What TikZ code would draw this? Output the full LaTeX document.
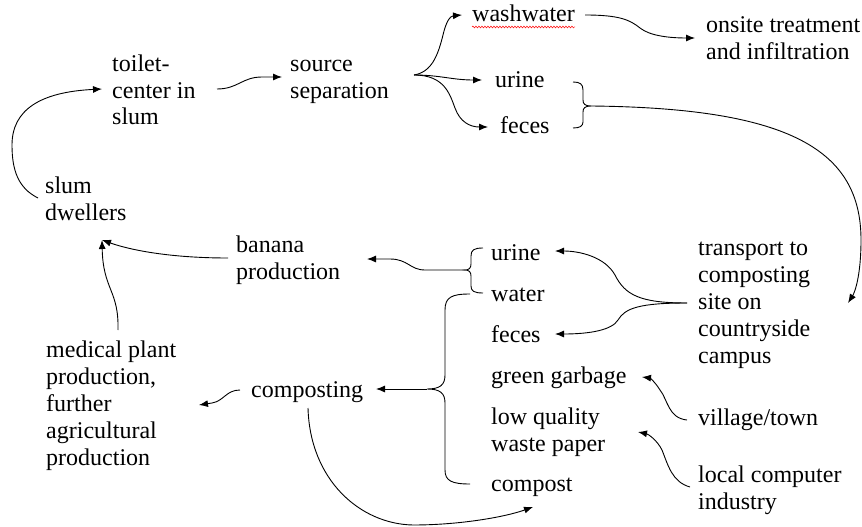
\documentclass[tikz,border=0pt]{standalone}
\usepackage{fontspec}
\setmainfont{Liberation Serif}
\usetikzlibrary{arrows.meta,decorations.pathmorphing}
% several lines, baseline on the first one
\newcommand\mlines[1]{\begin{tabular}[t]{@{}l@{}}#1\end{tabular}}
\begin{document}
\begin{tikzpicture}[x=1pt,y=-1pt,
  lbl/.style={anchor=base west, inner sep=0pt, font=\fontsize{24}{27}\selectfont},
  flow/.style={line width=0.9pt, -{Latex[length=9pt,width=7pt]}},
  bracket/.style={line width=0.9pt},
  squiggle/.style={red, line width=0.5pt, decorate,
    decoration={snake, amplitude=0.9pt, segment length=3pt}}]
\useasboundingbox (0,0) rectangle (862,527);

% ---- texts ----
\node[lbl] (toilet)    at (112,71)  {\mlines{toilet-\\center in\\slum}};
\node[lbl] (source)    at (290,71)  {\mlines{source\\separation}};
\node[lbl] (wash)      at (472,22)  {washwater};
\node[lbl] (onsite)    at (706,33)  {\mlines{onsite treatment\\and infiltration}};
\node[lbl] (urineA)    at (495,88)  {urine};
\node[lbl] (fecesA)    at (500,133) {feces};
\node[lbl] (slum)      at (45,193)  {\mlines{slum\\dwellers}};
\node[lbl] (banana)    at (236,252) {\mlines{banana\\production}};
\node[lbl] (medical)   at (46,357)  {\mlines{medical plant\\production,\\further\\agricultural\\production}};
\node[lbl] (composting) at (251,397) {composting};
\node[lbl] (urineB)    at (491,260) {urine};
\node[lbl] (water)     at (491,301) {water};
\node[lbl] (fecesB)    at (491,342) {feces};
\node[lbl] (green)     at (491,383) {green garbage};
\node[lbl] (lowq)      at (491,424) {\mlines{low quality\\waste paper}};
\node[lbl] (compost)   at (491,491) {compost};
\node[lbl] (transport) at (698,255) {\mlines{transport to\\composting\\site on\\countryside\\campus}};
\node[lbl] (village)   at (698,425) {village/town};
\node[lbl] (computer)  at (698,482) {\mlines{local computer\\industry}};

% spell-check underline below "washwater"
\draw[squiggle] ([yshift=-5pt]wash.base west) -- ([yshift=-5pt]wash.base east);

% ---- connector end points ----
\coordinate (slumOut)     at (38,198);
\coordinate (toiletIn)    at (102,89);
\coordinate (toiletOut)   at (217,89);
\coordinate (sourceIn)    at (282,77);
\coordinate (fork)        at (414,75);
\coordinate (washIn)      at (462,15);
\coordinate (urineAIn)    at (482,80);
\coordinate (fecesAIn)    at (488,127);
\coordinate (washOut)     at (585,15);
\coordinate (onsiteIn)    at (695,38);
\coordinate (pairTip)     at (591,106);
\coordinate (transportIn) at (848,303);
\coordinate (bananaOut)   at (228,258);
\coordinate (slumIn)      at (102,240);
\coordinate (medicalOut)  at (118,330);
\coordinate (bananaTip)   at (465,270);
\coordinate (bananaIn)    at (367,259);
\coordinate (compTip)     at (427,389);
\coordinate (compIn)      at (376,389);
\coordinate (compOut)     at (240,390);
\coordinate (medicalIn)   at (199,405);
\coordinate (compDown)    at (308,408);
\coordinate (compostIn)   at (533,507);
\coordinate (transportOut) at (687,303);
\coordinate (urineBIn)    at (555,251);
\coordinate (fecesBIn)    at (555,334);
\coordinate (villageOut)  at (687,420);
\coordinate (greenIn)     at (642,377);
\coordinate (computerOut) at (690,487);
\coordinate (lowqIn)      at (638,432);

% ---- braces ----
% urine / feces after separation
\draw[bracket] (573,82) .. controls (580,82) and (583,84) .. (583,90) -- (583,100)
  .. controls (583,104) and (585,106) .. (pairTip)
  .. controls (585,106) and (583,108) .. (583,112) -- (583,122)
  .. controls (583,126) and (580,128) .. (573,128);
% urine / water for banana production
\draw[bracket] (483,248) .. controls (474,248) and (471,250) .. (471,256) -- (471,264)
  .. controls (471,268) and (469,270) .. (bananaTip)
  .. controls (469,270) and (471,272) .. (471,276) -- (471,286)
  .. controls (471,291) and (474,293) .. (483,293);
% inputs for composting
\draw[bracket] (470,294) .. controls (452,294) and (445,297) .. (445,310) -- (445,375)
  .. controls (445,385) and (440,389) .. (compTip)
  .. controls (440,389) and (445,393) .. (445,403) -- (445,470)
  .. controls (445,481) and (452,484) .. (470,484);

% ---- connectors ----
\draw[flow] (slumOut) .. controls (18,188) and (12,170) .. (12,145)
  .. controls (12,110) and (40,92) .. (toiletIn);
\draw[flow] (toiletOut) .. controls (238,89) and (242,77) .. (262,77) -- (sourceIn);
\draw[flow] (fork) .. controls (432,72) and (438,55) .. (443,35)
  .. controls (446,22) and (450,16) .. (washIn);
\draw[flow] (fork) .. controls (440,75) and (452,80) .. (urineAIn);
\draw[flow] (fork) .. controls (445,75) and (450,95) .. (455,108)
  .. controls (460,122) and (470,127) .. (fecesAIn);
\draw[flow] (washOut) .. controls (620,15) and (630,20) .. (640,28)
  .. controls (650,36) and (670,38) .. (onsiteIn);
\draw[flow] (pairTip) .. controls (790,108) and (861,150) .. (861,240)
  .. controls (861,275) and (855,292) .. (transportIn);
\draw[flow] (bananaOut) .. controls (170,258) and (130,250) .. (slumIn);
\draw[flow] (medicalOut) .. controls (119,290) and (103,290) .. (slumIn);
\draw[flow] (bananaTip) -- (425,270) .. controls (410,270) and (408,259) .. (390,259) -- (bananaIn);
\draw[flow] (compTip) -- (compIn);
\draw[flow] (compOut) .. controls (226,390) and (224,401) .. (212,403) -- (medicalIn);
\draw[flow] (compDown) .. controls (310,480) and (360,524) .. (413,525)
  .. controls (460,525) and (505,517) .. (compostIn);
\draw[flow] (transportOut) .. controls (640,303) and (625,295) .. (615,275)
  .. controls (605,257) and (580,251) .. (urineBIn);
\draw[flow] (transportOut) .. controls (640,303) and (625,308) .. (618,320)
  .. controls (612,330) and (590,334) .. (fecesBIn);
\draw[flow] (villageOut) .. controls (668,418) and (668,400) .. (660,390)
  .. controls (655,382) and (650,378) .. (greenIn);
\draw[flow] (computerOut) .. controls (672,482) and (668,465) .. (662,450)
  .. controls (657,440) and (648,434) .. (lowqIn);
\end{tikzpicture}
\end{document}
